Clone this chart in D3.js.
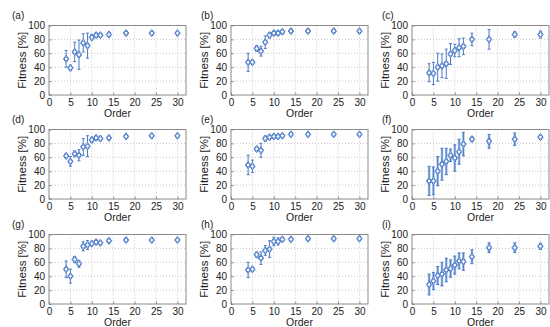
<!DOCTYPE html>
<html>
<head>
<meta charset="utf-8">
<script src="https://cdn.jsdelivr.net/npm/d3@7"></script>
<style>
  body { margin: 0; background: #fff; }
  svg { display: block; font-family: "Liberation Sans", Arial, sans-serif; }
</style>
</head>
<body>
<div id="chart"></div>
<script>
// model order on the x axis, shared by every panel
const order = [4, 5, 6, 7, 8, 9, 10, 11, 12, 14, 18, 24, 30];

// fitness means and error half-widths, one pair per panel
const fitA = [52, 39, 62, 58, 75, 71, 83, 86, 86, 87, 89, 89, 89];
const errA = [12, 4, 14, 21, 13, 18, 4, 3, 3, 3, 2.5, 2.5, 2];
const fitB = [47, 47, 67, 63, 76, 86, 89, 89, 91, 92, 92, 92, 92];
const errB = [13, 3, 4, 7, 9, 4, 3, 3, 3, 2.5, 2.5, 2.5, 2.5];
const fitC = [32, 31, 40, 42, 45, 59, 64, 68, 70, 80, 80, 87, 87];
const errC = [13, 16, 20, 17, 21, 15, 9, 13, 12, 9, 14, 4, 5];
const fitD = [62, 54, 65, 63, 75, 76, 85, 88, 87, 88, 90, 91, 91];
const errD = [2.5, 7, 4, 8, 12, 15, 4, 3, 3, 2.5, 2, 2, 2];
const fitE = [49, 47, 72, 70, 87, 89, 90, 90, 91, 93, 93, 93, 93];
const errE = [14, 9, 3, 10, 3.5, 3, 3, 2.5, 2.5, 2.5, 2.5, 2, 2];
const fitF = [26, 26, 40, 50, 54, 63, 59, 68, 79, 86, 83, 86, 89];
const errF = [21, 20, 21, 23, 19, 9, 19, 18, 17, 3, 10, 9, 3];
const fitG = [50, 40, 64, 58, 83, 85, 87, 89, 88, 91, 92, 92, 92];
const errG = [12, 10, 4.5, 5, 6.5, 6.5, 3, 3, 3, 3, 2, 2, 2];
const fitH = [49, 50, 71, 66, 77, 79, 90, 90, 93, 93, 94, 94, 94];
const errH = [11, 3, 3.5, 9, 7, 12, 6, 5, 3, 2.5, 2.5, 2.5, 2.5];
const fitI = [28, 33, 41, 43, 49, 51, 56, 62, 61, 68, 81, 81, 83];
const errI = [15, 12.5, 13, 17, 17, 12.5, 13, 11.5, 12.5, 10, 7, 7, 4.5];

const labels = ["(a)", "(b)", "(c)", "(d)", "(e)", "(f)", "(g)", "(h)", "(i)"];
const fits = [fitA, fitB, fitC, fitD, fitE, fitF, fitG, fitH, fitI];
const errs = [errA, errB, errC, errD, errE, errF, errG, errH, errI];
const wideBars = [false, false, false, false, false, true, false, false, true];

const xTicks = [0, 5, 10, 15, 20, 25, 30];
const yTicks = [0, 20, 40, 60, 80, 100];

const W = 550, H = 327;
const colLeft = [49, 231, 412];
const rowTop = [25.5, 129.5, 234.5];
const pw = 137, ph = 69.5;

const blue = "#4a79c6";
const lightBlue = "#a6c1e8";

const svg = d3.select("#chart").append("svg")
  .attr("width", W)
  .attr("height", H);

fits.forEach(function(fit, k) {
  const col = k % 3, row = Math.floor(k / 3);
  const err = errs[k];

  const x = d3.scaleLinear().domain([0, 32]).range([0, pw]);
  const y = d3.scaleLinear().domain([0, 100]).range([ph, 0]);

  const g = svg.append("g")
    .attr("transform", "translate(" + colLeft[col] + "," + rowTop[row] + ")");

  // dotted grid
  g.selectAll(".gx").data(xTicks.slice(1)).enter().append("line")
    .attr("x1", d => x(d)).attr("x2", d => x(d))
    .attr("y1", 0).attr("y2", ph)
    .attr("stroke", "#c8c8c8").attr("stroke-dasharray", "1,2");
  g.selectAll(".gy").data(yTicks.slice(1, -1)).enter().append("line")
    .attr("x1", 0).attr("x2", pw)
    .attr("y1", d => y(d)).attr("y2", d => y(d))
    .attr("stroke", "#c8c8c8").attr("stroke-dasharray", "1,2");

  // axes
  const xAxis = d3.axisBottom(x).tickValues(xTicks).tickSizeInner(-2.5).tickSizeOuter(0).tickPadding(4);
  const yAxis = d3.axisLeft(y).tickValues(yTicks).tickSizeInner(-2.5).tickSizeOuter(0).tickPadding(4);

  const gx = g.append("g").attr("transform", "translate(0," + ph + ")").call(xAxis);
  const gy = g.append("g").call(yAxis);
  [gx, gy].forEach(function(ax) {
    ax.select(".domain").remove();
    ax.selectAll("line").attr("stroke", "#8a8a8a");
    ax.selectAll("text").attr("font-size", "10px").attr("fill", "#222")
      .attr("font-family", "Liberation Sans, Arial, sans-serif");
  });

  // frame
  g.append("rect")
    .attr("width", pw).attr("height", ph)
    .attr("fill", "none").attr("stroke", "#8a8a8a").attr("stroke-width", 1);

  // error bars
  const bars = g.selectAll(".eb").data(order).enter().append("g");
  if (wideBars[k]) {
    bars.append("line")
      .attr("x1", d => x(d)).attr("x2", d => x(d))
      .attr("y1", (d, i) => y(fit[i] - err[i])).attr("y2", (d, i) => y(fit[i] + err[i]))
      .attr("stroke", lightBlue).attr("stroke-width", 2.6);
  }
  bars.append("line")
    .attr("x1", d => x(d)).attr("x2", d => x(d))
    .attr("y1", (d, i) => y(fit[i] - err[i])).attr("y2", (d, i) => y(fit[i] + err[i]))
    .attr("stroke", blue).attr("stroke-width", 1);
  [-1, 1].forEach(function(s) {
    bars.append("line")
      .attr("x1", d => x(d) - 1.5).attr("x2", d => x(d) + 1.5)
      .attr("y1", (d, i) => y(fit[i] + s * err[i])).attr("y2", (d, i) => y(fit[i] + s * err[i]))
      .attr("stroke", blue).attr("stroke-width", 1);
  });

  // markers: diamond with circle inside
  const marks = g.selectAll(".mk").data(order).enter().append("g")
    .attr("transform", (d, i) => "translate(" + x(d) + "," + y(fit[i]) + ")");
  marks.append("path")
    .attr("d", "M0,-3.6L2.7,0L0,3.6L-2.7,0Z")
    .attr("fill", "#fff").attr("stroke", blue).attr("stroke-width", 1);
  marks.append("circle")
    .attr("r", 1.8)
    .attr("fill", "none").attr("stroke", blue).attr("stroke-width", 0.9);

  // labels
  svg.append("text")
    .attr("x", colLeft[col] - (col === 0 ? 37 : 30))
    .attr("y", rowTop[row] - 7)
    .attr("font-size", "10px").attr("fill", "#222")
    .text(labels[k]);

  svg.append("text")
    .attr("x", colLeft[col] + pw / 2)
    .attr("y", rowTop[row] + ph + 22)
    .attr("text-anchor", "middle")
    .attr("font-size", "10.5px").attr("fill", "#222")
    .text("Order");

  svg.append("text")
    .attr("transform", "translate(" + (colLeft[col] - 23) + "," + (rowTop[row] + ph / 2) + ") rotate(-90)")
    .attr("text-anchor", "middle")
    .attr("font-size", "11.5px").attr("fill", "#222")
    .text("Fitness [%]");
});
</script>
</body>
</html>
